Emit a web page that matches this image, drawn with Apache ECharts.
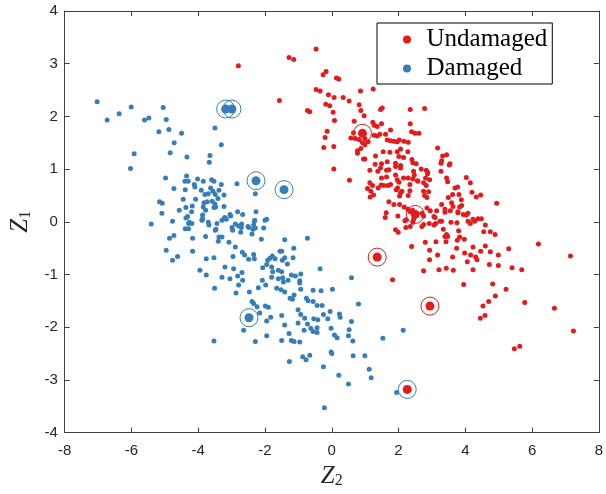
<!DOCTYPE html>
<html>
<head>
<meta charset="utf-8">
<script src="https://cdn.jsdelivr.net/npm/echarts@6/dist/echarts.min.js"></script>
<style>
  html, body { margin: 0; padding: 0; background: #fff; }
  #chart { width: 606px; height: 494px; }
</style>
</head>
<body>
<div id="chart"></div>
<script>
// values, [Z2, Z1]
const undamaged = [
  [-2.80,2.96],[-1.28,3.12],[-1.14,3.08],[-0.47,3.28],[-1.57,2.30],[-0.73,2.11],[-0.66,2.09],[-0.17,2.85],
  [-0.26,2.79],[0.14,2.73],[-0.47,2.51],[-0.35,2.48],[-0.10,2.41],[0.07,2.36],[-0.18,2.23],[-0.06,2.20],
  [0.04,2.08],[0.08,1.92],[-0.14,1.72],[-0.20,1.60],[-0.24,1.41],[0.06,1.43],[0.06,1.00],
  [0.21,2.71],[0.86,2.48],[1.24,2.52],[0.34,2.36],[0.52,2.29],[0.82,2.22],[1.46,2.13],[1.51,2.16],[2.35,2.13],
  [2.78,2.15],[0.97,2.01],[1.23,1.89],[2.35,1.86],[1.27,1.83],[1.36,1.81],[1.49,1.86],[2.39,1.71],[2.49,1.68],
  [2.61,1.68],[0.65,1.69],[0.70,1.58],[0.82,1.56],[0.92,1.50],[0.99,1.46],[1.27,1.64],[1.36,1.63],[1.44,1.66],
  [1.61,1.66],[1.66,1.55],[1.76,1.54],[1.86,1.53],[1.96,1.52],[2.02,1.55],[2.16,1.53],[2.29,1.51],
  [0.77,1.30],[0.87,1.39],[1.31,1.25],[1.54,1.33],[1.74,1.32],[1.96,1.33],[2.28,1.33],[3.17,1.40],[3.32,1.25],
  [3.44,1.27],[0.95,1.19],[1.30,1.09],[1.49,1.10],[1.66,1.14],[1.91,1.11],[1.91,1.05],[2.06,1.07],[2.40,1.18],
  [2.43,1.12],[2.53,1.10],[3.27,1.11],[3.54,1.10],[1.14,0.98],[1.46,1.02],[1.64,0.98],[1.71,0.99],[2.06,1.02],
  [2.45,0.96],[2.68,1.00],[2.83,0.98],[2.87,0.94],[1.49,0.83],[1.64,0.85],[1.96,0.80],[2.15,0.83],[2.29,0.83],
  [2.43,0.81],[2.57,0.78],[0.53,0.79],[1.14,0.74],[1.07,0.63],[1.17,0.58],[1.15,0.47],[1.25,0.51],[1.39,0.64],
  [1.56,0.69],[1.76,0.71],[2.01,0.75],[1.97,0.64],[2.06,0.55],[2.10,0.58],[2.83,0.69],[2.75,0.58],[2.78,0.50],
  [2.85,0.46],[3.27,0.96],[3.44,0.83],[3.69,0.64],[3.81,0.52],[3.88,0.42],[4.03,0.84],[4.15,0.74],[4.20,0.56],
  [4.33,0.47],[4.46,0.51],[4.94,0.35],[1.71,0.38],[1.86,0.33],[2.17,0.28],[2.28,0.24],[1.63,0.17],[1.98,0.11],
  [2.19,0.02],[2.45,0.05],[2.75,0.11],[2.95,0.21],[3.09,0.08],[3.24,0.01],[3.39,0.18],[3.55,0.21],[3.63,0.29],
  [3.78,0.17],[3.83,0.28],[4.03,0.13],[4.23,0.05],[4.38,0.06],[4.60,-0.06],
  [1.91,-0.15],[1.99,-0.20],[2.22,-0.11],[2.35,-0.09],[2.43,-0.01],[2.70,-0.09],[2.92,-0.03],[3.11,-0.03],
  [3.29,0.01],[3.57,-0.01],[3.75,-0.02],[4.08,0.01],[4.15,-0.03],[4.28,0.01],[3.34,-0.14],[3.44,-0.24],
  [3.39,-0.28],[3.80,-0.17],[3.83,-0.29],[3.76,-0.35],[3.97,-0.33],[4.55,-0.19],[4.75,-0.19],[4.89,-0.24],
  [2.39,-0.47],[2.80,-0.39],[3.12,-0.38],[2.93,-0.54],[3.17,-0.63],[2.93,-0.72],[2.75,-0.93],[3.21,-0.91],
  [3.43,-0.88],[3.64,-0.92],[3.42,-0.38],[3.47,-0.28],[3.74,-0.50],[3.62,-0.67],[3.98,-0.59],[4.06,-0.76],
  [4.23,-0.91],[4.16,-0.63],[4.23,-0.48],[4.31,-0.67],[4.35,-0.72],[4.46,-0.56],[4.60,-0.46],[4.75,-0.57],
  [4.99,-0.63],[4.72,-0.81],[4.99,-0.83],[5.30,-0.51],[5.40,-0.87],[5.69,-0.91],[6.19,-0.42],[7.15,-0.65],
  [1.82,-1.10],[3.95,-1.19],[4.82,-1.18],[5.22,-1.28],[4.90,-1.41],[4.70,-1.51],[4.53,-1.60],[4.59,-1.78],
  [4.45,-1.83],[5.78,-1.53],[6.67,-1.64],[5.47,-2.41],[5.63,-2.36],[7.24,-2.07],
  [0.87,2.11],[0.67,1.91],[1.76,1.74],[0.57,1.59],[1.09,1.52],[0.99,1.58],[0.77,1.35],[0.99,1.19],[2.06,1.38],
  [2.01,1.24],[2.15,1.22],[3.29,1.16],[3.52,1.08],[1.38,0.96],[1.91,0.89],[2.47,0.89],[2.87,0.91],[2.81,0.83],
  [2.93,0.80],[1.48,0.70],[2.58,0.77],[2.34,0.71],[2.75,0.74],[2.90,0.57],[2.34,0.59],[2.29,0.50],[1.22,0.69],
  [1.68,0.69],[1.93,0.61],[2.03,0.49],[3.47,0.76],[3.77,0.66],[3.62,0.52],[3.49,0.46],[3.59,0.36],[3.29,0.33],
  [3.14,0.21],[3.06,0.10],[3.39,0.24],[3.89,0.31],[3.78,0.19],[3.94,0.14],[4.48,0.06],[4.08,0.16],[1.60,0.08],
  [2.03,0.33],[2.35,0.19],[2.23,0.04],[2.42,0.22],[2.70,0.16],[2.75,-0.05],[2.85,0.26],[3.06,-0.06]
];

const damaged = [
  [-7.03,2.28],[-6.73,1.93],[-6.37,2.05],[-6.01,2.18],[-5.05,2.17],[-5.61,1.93],[-5.48,1.97],[-4.96,1.94],
  [-5.18,1.71],[-4.88,1.75],[-4.50,1.68],[-4.72,1.50],[-3.50,1.78],[-3.31,1.46],[-5.92,1.29],[-6.03,1.01],
  [-4.84,1.31],[-4.34,1.23],[-3.65,1.26],[-3.67,1.13],[-2.29,0.53],[-2.84,0.72],[-4.98,0.83],
  [-4.35,0.87],[-4.40,0.77],[-4.30,0.77],[-4.12,0.71],[-4.10,0.66],[-4.02,0.81],[-3.85,0.77],[-3.60,0.80],
  [-3.53,0.77],[-3.31,0.71],[-4.73,0.63],[-4.39,0.61],[-3.91,0.60],[-3.63,0.64],[-3.56,0.58],[-3.38,0.60],
  [-3.80,0.52],[-3.70,0.53],[-3.49,0.52],[-3.23,0.51],[-4.45,0.43],[-4.08,0.43],[-3.41,0.44],[-5.16,0.38],
  [-5.08,0.35],[-3.83,0.36],[-3.73,0.38],[-3.58,0.39],[-3.50,0.34],[-4.18,0.30],[-4.37,0.27],[-3.85,0.28],
  [-3.78,0.22],[-3.53,0.27],[-3.48,0.28],[-3.23,0.29],[-4.57,0.22],[-4.20,0.19],[-5.09,0.16],[-3.87,0.13],
  [-3.87,0.06],[-3.89,0.03],[-4.32,0.10],[-3.21,0.08],[-3.16,0.05],[-3.03,0.11],[-3.05,0.14],[-2.82,0.19],
  [-2.67,0.14],[-2.27,0.19],[-1.95,0.05],[-2.00,0.03],[-2.31,0.03],[-2.49,-0.11],[-2.36,-0.14],[-2.29,-0.12],
  [-2.04,-0.12],[-4.27,-0.01],[-3.44,-0.03],[-2.99,-0.11],[-2.97,-0.16],[-2.79,-0.08],[-2.71,-0.11],
  [-2.89,-0.04],[-3.47,-0.14],
  [-5.41,-0.04],[-4.77,0.01],[-4.37,0.07],[-4.19,-0.03],[-4.29,-0.03],[-4.39,-0.13],[-4.29,-0.13],[-4.17,-0.31],
  [-3.88,0.05],[-3.70,-0.01],[-3.68,-0.06],[-3.49,-0.16],[-3.29,0.03],[-3.19,0.07],[-2.70,-0.04],[-2.73,-0.20],
  [-2.51,-0.09],[-2.34,-0.06],[-2.39,-0.23],[-2.32,0.01],[-2.11,-0.33],
  [-4.86,-0.31],[-4.73,-0.26],[-4.96,-0.54],[-4.62,-0.66],[-4.77,-0.73],[-4.17,-0.56],[-3.78,-0.28],[-3.76,-0.70],
  [-3.53,-0.68],[-3.38,-0.29],[-3.29,-0.29],[-3.40,-0.37],[-3.08,-0.39],[-2.89,-0.48],[-2.96,-0.66],[-2.68,-0.58],
  [-2.61,-0.63],[-2.49,-0.71],[-2.34,-0.62],[-2.32,-0.70],
  [-3.95,-0.92],[-3.76,-1.01],[-3.51,-1.26],[-3.20,-0.86],[-3.29,-1.05],[-3.05,-1.08],[-2.94,-0.89],[-2.82,-1.03],
  [-2.69,-0.96],[-2.67,-1.11],[-2.79,-1.20],[-2.87,-1.35],[-2.47,-1.33],[-2.20,-1.25],[-2.08,-1.11],[-2.07,-0.87],
  [-1.98,-1.20],[-1.92,-0.73],[-1.85,-0.69],[-1.70,-0.70],[-1.55,-0.56],[-1.50,-0.56],[-1.41,-0.68],[-1.33,-0.80],
  [-1.16,-0.68],[-1.14,-0.50],[-0.73,-0.31],[-1.41,-0.34],[-1.78,-0.65],[-1.95,-0.81],
  [-1.80,-0.86],[-1.77,-0.95],[-1.60,-0.92],[-1.50,-0.95],[-1.47,-1.06],[-1.45,-1.14],[-1.31,-1.11],[-1.80,-1.05],
  [-1.60,-1.08],[-1.65,-1.26],[-1.52,-1.29],[-1.41,-1.33],[-1.21,-1.01],[-1.09,-1.03],[-0.96,-1.12],[-0.96,-1.16],
  [-0.93,-0.99],[-0.93,-1.28],[-1.13,-1.39],[-1.25,-1.45],[-1.18,-1.47],[-0.76,-1.45],[-0.71,-1.50],[-0.56,-1.51],
  [-0.32,-1.31],[-0.44,-1.59],[-0.29,-1.59],[-0.25,-1.76],
  [-2.39,-1.51],[-2.34,-1.55],[-2.24,-1.61],[-2.16,-1.73],[-1.99,-1.60],[-1.90,-1.62],[-1.83,-1.81],[-1.95,-1.88],
  [-1.95,-2.16],[-1.50,-1.78],[-1.41,-1.96],[-1.50,-2.25],[-1.21,-2.25],[-1.13,-2.27],[-1.28,-2.12],[-0.96,-2.28],
  [-1.01,-1.67],[-0.93,-1.76],[-0.81,-1.83],[-0.83,-2.06],[-1.01,-1.92],[-0.73,-1.94],[-0.63,-2.02],[-0.56,-2.08],
  [-0.54,-1.84],[-0.42,-1.86],[-0.44,-2.01],[-0.44,-2.10],[-0.66,-2.53],[-0.77,-2.62],[-0.87,-2.56],[-1.27,-2.65],
  [-0.25,-2.75],[-0.22,-3.53],[-2.29,-2.27],[-2.64,-2.06],[-3.53,-2.26],[-0.02,-2.47],[-0.02,-2.02],
  [-1.48,-0.73],[-0.35,-0.89],[-0.56,-1.30],
  [0.59,-1.06],[0.02,-1.28],[0.80,-1.56],[-0.05,-1.70],[0.23,-1.75],[0.25,-1.81],[-0.12,-1.84],[0.59,-1.89],
  [0.52,-2.05],[0.08,-2.15],[0.16,-2.20],[0.50,-2.16],[0.63,-2.26],[1.53,-2.21],[2.14,-2.06],[0.00,-2.50],
  [0.64,-2.54],[0.99,-2.54],[1.12,-2.80],[1.18,-2.96],[0.21,-2.91],[0.50,-3.08],[1.94,-3.24]
];

// highlighted samples (bigger dot), and the rings drawn round them
const undamagedBig = [[0.92,1.68],[2.50,0.14],[1.36,-0.67],[2.94,-1.60],[2.26,-3.18]];
const damagedBig = [[-3.18,2.14],[-2.99,2.14],[-2.27,0.78],[-1.43,0.61],[-2.48,-1.82]];
const redRings = [[0.92,1.68],[2.50,0.14],[1.36,-0.67],[2.94,-1.60]];
const blueRings = [[-3.18,2.14],[-2.99,2.14],[-2.27,0.78],[-1.43,0.61],[-2.48,-1.82],[2.26,-3.18]];

const xTicks = [-8, 8, 2];
const yTicks = [-4, 4, 1];

const RED = '#e41a1c';
const BLUE = '#377eb8';
const AXIS = '#404040';

const chart = echarts.init(document.getElementById('chart'));

function axisBase(min, max, step) {
  return {
    type: 'value',
    min: min,
    max: max,
    interval: step,
    axisLine: { show: true, onZero: false, lineStyle: { color: AXIS, width: 1 } },
    axisTick: { show: true, inside: true, length: 5, lineStyle: { color: AXIS } },
    splitLine: { show: false }
  }
}

const nameRich = {
  i: { fontFamily: 'Liberation Serif', fontStyle: 'italic', fontSize: 25, color: '#262626' },
  s: { fontFamily: 'Liberation Serif', fontSize: 16, color: '#262626', verticalAlign: 'bottom', padding: [10, 0, 0, 0] }
};

const xMain = Object.assign(axisBase(xTicks[0], xTicks[1], xTicks[2]), {
  position: 'bottom',
  name: '{i|Z}{s|2}',
  nameLocation: 'middle',
  nameGap: 30,
  nameTextStyle: { rich: nameRich },
  axisLabel: { margin: 11, fontFamily: 'Liberation Sans', fontSize: 15, color: '#262626' }
});
const xTop = Object.assign(axisBase(xTicks[0], xTicks[1], xTicks[2]), {
  position: 'top',
  axisLabel: { show: false }
});
const yMain = Object.assign(axisBase(yTicks[0], yTicks[1], yTicks[2]), {
  position: 'left',
  name: '{i|Z}{s|1}',
  nameLocation: 'middle',
  nameGap: 27,
  nameRotate: 90,
  nameTextStyle: { rich: nameRich },
  axisLabel: { margin: 7, fontFamily: 'Liberation Sans', fontSize: 15, color: '#262626' }
});
const yRight = Object.assign(axisBase(yTicks[0], yTicks[1], yTicks[2]), {
  position: 'right',
  axisLabel: { show: false }
});

chart.setOption({
  animation: false,
  backgroundColor: '#ffffff',
  grid: { left: 64, right: 2, top: 11, bottom: 56 },
  legend: {
    orient: 'vertical',
    left: 377,
    top: 23,
    data: ['Undamaged', 'Damaged'],
    backgroundColor: '#ffffff',
    borderColor: '#000000',
    borderWidth: 1,
    borderRadius: 0,
    padding: [4, 5, 3, 26],
    itemGap: 4,
    itemWidth: 29,
    itemHeight: 8,
    icon: 'circle',
    textStyle: {
      fontFamily: 'Liberation Serif',
      fontSize: 25,
      lineHeight: 24,
      color: '#000000'
    }
  },
  xAxis: [xMain, xTop],
  yAxis: [yMain, yRight],
  series: [
    {
      name: 'Damaged',
      type: 'scatter',
      symbol: 'circle',
      symbolSize: 5,
      itemStyle: { color: BLUE, opacity: 1 },
      data: damaged
    },
    {
      name: 'Undamaged',
      type: 'scatter',
      symbol: 'circle',
      symbolSize: 5,
      itemStyle: { color: RED, opacity: 1 },
      data: undamaged
    },
    {
      name: 'damagedBig',
      type: 'scatter',
      symbolSize: 9,
      itemStyle: { color: BLUE, opacity: 1 },
      data: damagedBig
    },
    {
      name: 'undamagedBig',
      type: 'scatter',
      symbolSize: 9,
      itemStyle: { color: RED, opacity: 1 },
      data: undamagedBig
    },
    {
      name: 'redRings',
      type: 'scatter',
      symbolSize: 18,
      itemStyle: { color: 'rgba(0,0,0,0)', borderColor: RED, borderWidth: 1, opacity: 1 },
      data: redRings
    },
    {
      name: 'blueRings',
      type: 'scatter',
      symbolSize: 18,
      itemStyle: { color: 'rgba(0,0,0,0)', borderColor: BLUE, borderWidth: 1, opacity: 1 },
      data: blueRings
    }
  ]
});
</script>
</body>
</html>
